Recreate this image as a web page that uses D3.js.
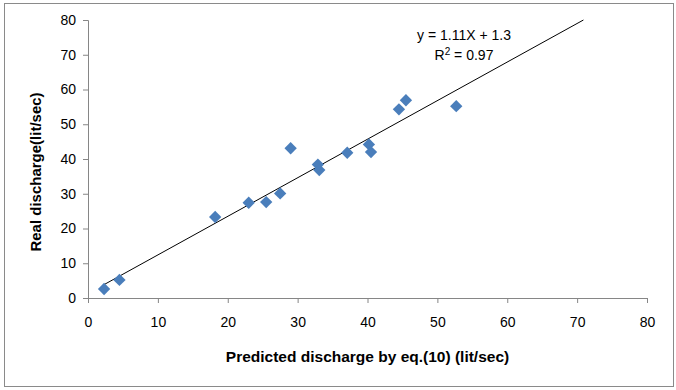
<!DOCTYPE html>
<html lang="en">
<head>
<meta charset="utf-8">
<title>Real vs predicted discharge</title>
<script src="https://d3js.org/d3.v7.min.js"></script>
<style>
  html, body { margin: 0; padding: 0; background: #fff; }
  svg text { font-family: "Liberation Sans", Arial, sans-serif; fill: #000; }
</style>
</head>
<body>
<div id="chart"></div>
<script>
// Data
const predicted = [2.3, 4.5, 18.2, 23.0, 25.5, 27.5, 29.0, 32.9, 33.1, 37.1, 40.2, 40.5, 44.5, 45.5, 52.7];
const real      = [2.6, 5.2, 23.3, 27.4, 27.6, 30.1, 43.1, 38.4, 36.8, 41.8, 44.2, 42.0, 54.3, 56.9, 55.2];
const xTicks = [0, 10, 20, 30, 40, 50, 60, 70, 80];
const yTicks = [0, 10, 20, 30, 40, 50, 60, 70, 80];
const slope = 1.11, intercept = 1.3;
const trendRange = [2.3, 70.9];
const eqLines = ["y = 1.11X + 1.3", "R² = 0.97"];

const W = 676, H = 390;
const margin = { top: 20, right: 29, bottom: 92, left: 88 };
const width = W - margin.left - margin.right;
const height = H - margin.top - margin.bottom;

const svg = d3.select("#chart").append("svg")
  .attr("width", W)
  .attr("height", H);

// outer chart border
svg.append("rect")
  .attr("x", 4.5).attr("y", 3.5)
  .attr("width", 669).attr("height", 383)
  .attr("fill", "none")
  .attr("stroke", "#8a8a8a");

const g = svg.append("g")
  .attr("transform", `translate(${margin.left},${margin.top})`);

const x = d3.scaleLinear().domain([0, 80]).range([0, width]);
const y = d3.scaleLinear().domain([0, 80]).range([height, 0]);

// axes
const xAxis = g.append("g")
  .attr("transform", `translate(0,${height})`)
  .call(d3.axisBottom(x).tickValues(xTicks).tickSize(5).tickPadding(14));
const yAxis = g.append("g")
  .call(d3.axisLeft(y).tickValues(yTicks).tickSize(5).tickPadding(7));

[xAxis, yAxis].forEach(a => {
  a.selectAll("path, line").attr("stroke", "#868686");
  a.selectAll("text").style("font-size", "14px").attr("fill", "#000");
});

// trendline
const trend = trendRange.map(v => [x(v), y(slope * v + intercept)]);
g.append("path")
  .attr("d", d3.line()(trend))
  .attr("stroke", "#000")
  .attr("stroke-width", 1)
  .attr("fill", "none");

// points (diamonds)
const diamond = d3.symbol(d3.symbolSquare, 76);
g.selectAll("path.pt")
  .data(predicted.map((p, i) => [p, real[i]]))
  .join("path")
  .attr("class", "pt")
  .attr("d", diamond)
  .attr("transform", d => `translate(${x(d[0])},${y(d[1])}) rotate(45)`)
  .attr("fill", "#4a7ebb");

// equation label
g.append("text")
  .attr("x", 376).attr("y", 20)
  .attr("text-anchor", "middle")
  .style("font-size", "14px")
  .text(eqLines[0]);
const r2 = g.append("text")
  .attr("x", 376).attr("y", 40)
  .attr("text-anchor", "middle")
  .style("font-size", "14px");
r2.append("tspan").text("R");
r2.append("tspan").attr("dy", -5).style("font-size", "10px").text("2");
r2.append("tspan").attr("dy", 5).text(" = 0.97");

// axis titles
svg.append("text")
  .attr("x", margin.left + width / 2)
  .attr("y", 362)
  .attr("text-anchor", "middle")
  .style("font-size", "15.5px")
  .style("font-weight", "bold")
  .text("Predicted discharge by eq.(10) (lit/sec)");

svg.append("text")
  .attr("transform", "translate(41,172) rotate(-90)")
  .attr("text-anchor", "middle")
  .style("font-size", "15px")
  .style("font-weight", "bold")
  .text("Real discharge(lit/sec)");
</script>
</body>
</html>
